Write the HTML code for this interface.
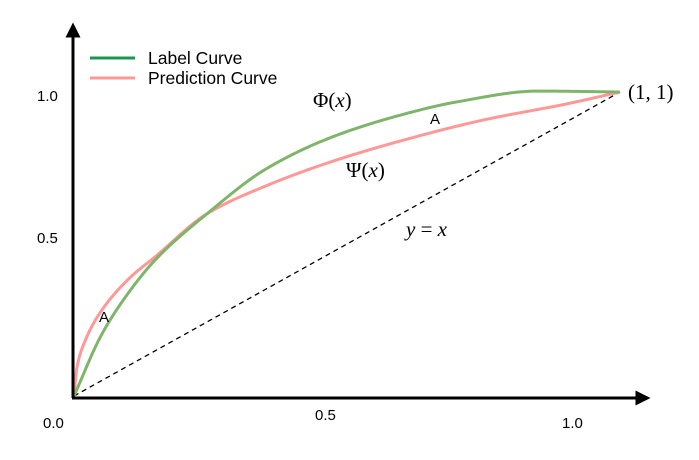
<!DOCTYPE html>
<html><head><meta charset="utf-8">
<style>
html,body{margin:0;padding:0;background:#fff;}
svg{display:block;}
.t{font-family:"Liberation Sans",sans-serif;font-size:15px;fill:#000;}
.lg{font-family:"Liberation Sans",sans-serif;font-size:17.5px;fill:#000;}
.m{font-family:"Liberation Serif",serif;font-size:21px;fill:#000;}
</style></head>
<body>
<svg id="chart" width="699" height="460" viewBox="0 0 699 460">
<defs>
<marker id="arr" viewBox="0 0 10 10" refX="5" refY="5" markerWidth="5" markerHeight="5" orient="auto-start-reverse"><path d="M0,0 L10,5 L0,10 z" fill="#000"/></marker>
</defs>
<g id="marks"></g>
<line x1="73" y1="398" x2="73" y2="30" stroke="#000" stroke-width="3" marker-end="url(#arr)"/>
<line x1="72" y1="398" x2="643" y2="398" stroke="#000" stroke-width="3" marker-end="url(#arr)"/>
<g id="ticks"></g>
<g>
<line x1="90" y1="58" x2="135" y2="58" stroke="#1a9850" stroke-width="3"/>
<text class="lg" x="148" y="64">Label Curve</text>
<line x1="90" y1="78" x2="135" y2="78" stroke="#ff9896" stroke-width="3"/>
<text class="lg" x="148" y="84">Prediction Curve</text>
</g>
<text class="m" x="313" y="107">Φ(<tspan font-style="italic">x</tspan>)</text>
<text class="m" x="346" y="177">Ψ(<tspan font-style="italic">x</tspan>)</text>
<text class="m" x="406" y="236"><tspan font-style="italic">y</tspan> = <tspan font-style="italic">x</tspan></text>
<text class="m" x="628" y="99">(1, 1)</text>
<text class="t" x="430" y="124">A</text>
<text class="t" x="99" y="322">A</text>
</svg>
<script>
const labelX = [0,0.05,0.1,0.15,0.244,0.35,0.47,0.6,0.7,0.85,1];
const labelY = [0,0.2,0.34,0.45,0.60,0.745,0.85,0.925,0.967,1.003,1.0];
const predX = [0,0.005,0.02,0.05,0.1,0.15,0.244,0.35,0.47,0.6,0.75,0.9,1];
const predY = [0,0.09,0.18,0.28,0.385,0.46,0.6,0.69,0.77,0.84,0.908,0.96,1.0];
const xTicks = [0,0.5,1];
const xTickLabels = ["0.0","0.5","1.0"];
const yTicks = [0.5,1];
const yTickLabels = ["0.5","1.0"];

const sx = v => 74 + v*546;
const sy = v => 396 - v*304;
const NS = "http://www.w3.org/2000/svg";
function monotonePath(xs, ys){
  const n=xs.length, d=[], m=new Array(n);
  for(let i=0;i<n-1;i++) d.push((ys[i+1]-ys[i])/(xs[i+1]-xs[i]));
  m[0]=d[0]; m[n-1]=d[n-2];
  for(let i=1;i<n-1;i++){
    if(d[i-1]*d[i]<=0) m[i]=0;
    else { const w1=2*(xs[i+1]-xs[i])+(xs[i]-xs[i-1]), w2=(xs[i+1]-xs[i])+2*(xs[i]-xs[i-1]);
      m[i]=(w1+w2)/(w1/d[i-1]+w2/d[i]); }
  }
  let s="";
  for(let i=0;i<n-1;i++){
    const h=xs[i+1]-xs[i];
    for(let k=0;k<=30;k++){
      if(i>0&&k==0) continue;
      const t=k/30, t2=t*t, t3=t2*t;
      const y=(2*t3-3*t2+1)*ys[i]+(t3-2*t2+t)*h*m[i]+(-2*t3+3*t2)*ys[i+1]+(t3-t2)*h*m[i+1];
      const x=xs[i]+t*h;
      s+=(s?" L":"M")+sx(x).toFixed(2)+","+sy(y).toFixed(2);
    }
  }
  return s;
}
const g = document.getElementById("marks");
const diag = document.createElementNS(NS,"line");
diag.setAttribute("x1",sx(0));diag.setAttribute("y1",sy(0));
diag.setAttribute("x2",sx(1));diag.setAttribute("y2",sy(1));
diag.setAttribute("stroke","#000");diag.setAttribute("stroke-width","1.3");diag.setAttribute("stroke-dasharray","5,4");


g.appendChild(diag);
const pred = document.createElementNS(NS,"path");
pred.setAttribute("d",monotonePath(predX,predY));
pred.setAttribute("fill","none");pred.setAttribute("stroke","#ff9896");pred.setAttribute("stroke-width","3");


g.appendChild(pred);
const lab = document.createElementNS(NS,"path");
lab.setAttribute("d",monotonePath(labelX,labelY));
lab.setAttribute("fill","none");lab.setAttribute("stroke","#7fb56a");lab.setAttribute("stroke-width","3");


g.appendChild(lab);
const tg = document.getElementById("ticks");
xTicks.forEach((v,i)=>{
  const t=document.createElementNS(NS,"text");
  t.setAttribute("class","t");
  t.setAttribute("x", i==0 ? 43 : (i==1 ? sx(v)-32 : sx(v)-58));
  t.setAttribute("y", i==1 ? 420 : 428);
  t.textContent=xTickLabels[i];
  
  
  tg.appendChild(t);
});
yTicks.forEach((v,i)=>{
  const t=document.createElementNS(NS,"text");
  t.setAttribute("class","t");
  t.setAttribute("x",37);
  t.setAttribute("y", sy(v)+ (i==0 ? -1 : 9));
  t.textContent=yTickLabels[i];
  
  
  tg.appendChild(t);
});
</script>
</body></html>
